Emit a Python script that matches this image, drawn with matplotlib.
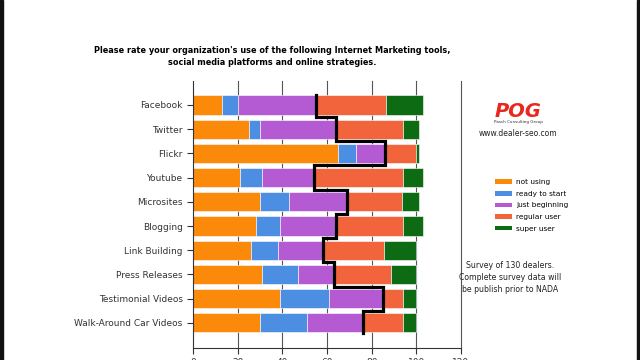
import matplotlib.pyplot as plt
from matplotlib.patches import Rectangle, Patch
import numpy as np

categories = ["Facebook", "Twitter", "Flickr", "Youtube", "Microsites", "Blogging",
              "Link Building", "Press Releases", "Testimonial Videos", "Walk-Around Car Videos"]
# cumulative end of each segment
not_using = [13, 25, 65, 21, 30, 28, 26, 31, 39, 30]
ready_to_start = [20, 30, 73, 31, 43, 39, 38, 47, 61, 51]
just_beginning = [55, 64, 86, 54, 69, 64, 58, 63, 85, 76]
regular_user = [86.5, 94, 100, 94, 93.5, 94, 85.5, 88.5, 94, 94]
super_user = [103, 101, 101, 103, 101, 103, 100, 100, 100, 100]

series = ["not using", "ready to start", "just beginning", "regular user", "super user"]
colors = ["#fb8a0b", "#4b8ee2", "#b45bd3", "#f2643c", "#0d6b14"]
ends = [not_using, ready_to_start, just_beginning, regular_user, super_user]

fig = plt.figure(figsize=(6.4, 3.6), dpi=100)
ax = fig.add_axes([0.3016, 0.0333, 0.4187, 0.7417])

y = np.arange(len(categories))
left = np.zeros(len(categories))
for name, col, e in zip(series, colors, ends):
    e = np.array(e, dtype=float)
    ax.barh(y, e - left, left=left, height=0.79, color=col, edgecolor="white", linewidth=0.4, label=name, zorder=2)
    left = e

# black step line at the end of "just beginning"
jb = np.array(just_beginning, dtype=float)
sx = np.repeat(jb, 2)
sy = np.ravel([[i - 0.5, i + 0.5] for i in y])
sy[0] = -0.4
sy[-1] = len(y) - 1 + 0.4
ax.plot(sx, sy, color="black", lw=2.3, zorder=3, solid_joinstyle="miter")

ax.set_xlim(0, 120)
ax.set_ylim(10.04, -0.99)
ax.set_yticks(y)
ax.set_yticklabels(categories, fontsize=6.5, color="#333333")
ax.set_xticks(np.arange(0, 121, 20))
ax.tick_params(axis="x", labelsize=6.5, colors="#333333", length=4, width=0.8)
ax.tick_params(axis="y", length=4, width=0.8, colors="#333333")
for xv in range(20, 121, 20):
    ax.axvline(xv, color="#555555", lw=0.8, zorder=1, clip_on=False)
for s in ["top", "right"]:
    ax.spines[s].set_visible(False)
ax.spines["left"].set_color("#333333")
ax.spines["bottom"].set_color("#333333")

fig.text(0.425, 0.843, "Please rate your organization's use of the following Internet Marketing tools,\n"
         "social media platforms and online strategies.",
         ha="center", va="center", fontsize=5.9, fontweight="bold", linespacing=1.35)

# logo
fig.text(0.81, 0.69, "POG", color="#e8281e", fontsize=14, fontweight="bold", style="italic",
         ha="center", va="center")
fig.text(0.81, 0.662, "Pasch Consulting Group", color="#333333", fontsize=3, ha="center", va="center")
fig.text(0.81, 0.63, "www.dealer-seo.com", color="#222222", fontsize=5.5, ha="center", va="center")

handles = [Patch(facecolor=c, label=n) for n, c in zip(series, colors)]
fig.legend(handles=handles, loc="upper left", bbox_to_anchor=(0.763, 0.52), frameon=False,
           fontsize=5.3, handlelength=2.3, handleheight=0.6, labelspacing=0.75, handletextpad=0.6)

fig.text(0.797, 0.23, "Survey of 130 dealers.\nComplete survey data will\nbe publish prior to NADA",
         ha="center", va="center", fontsize=5.6, color="#222222", linespacing=1.4)

# dark edges of the screenshot
fig.patches.append(Rectangle((0, 0), 0.005, 1, transform=fig.transFigure, color="#111111"))
fig.patches.append(Rectangle((0.995, 0), 0.005, 1, transform=fig.transFigure, color="#111111"))

fig.savefig("out.png", dpi=100)
